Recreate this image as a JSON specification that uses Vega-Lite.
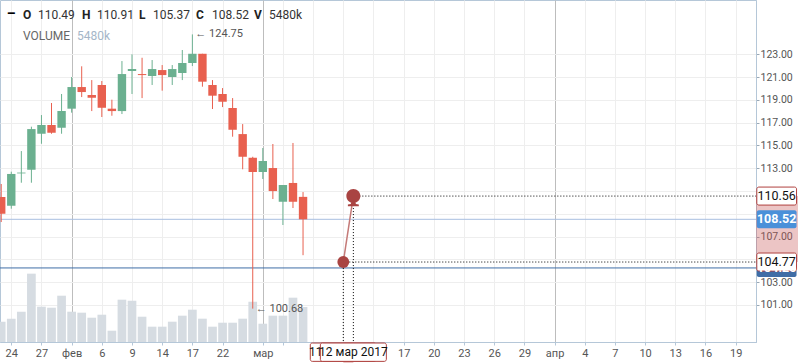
{
  "$schema": "https://vega.github.io/schema/vega-lite/v6.json",
  "width": 756,
  "height": 342,
  "autosize": {"type": "none"},
  "padding": {"left": 0, "top": 0, "right": 42, "bottom": 21},
  "background": "white",
  "config": {
    "view": {"stroke": "#b5c7d8"},
    "font": "Roboto",
    "text": {"font": "Roboto"},
    "scale": {"continuousPadding": 0},
    "axisX": {"labelOverlap": false, "labelFlush": false, "labelBound": false, "tickCount": 25}
  },
  "datasets": {
    "ohlc": [
      {"i": -1, "o": 110.48, "h": 111.62, "l": 108.28, "c": 109.01, "v": 3180},
      {"i": 0, "o": 109.71, "h": 112.70, "l": 109.45, "c": 112.50, "v": 3650},
      {"i": 1, "o": 112.55, "h": 114.51, "l": 111.73, "c": 112.62, "v": 4745},
      {"i": 2, "o": 112.87, "h": 116.65, "l": 111.73, "c": 116.44, "v": 10700},
      {"i": 3, "o": 116.03, "h": 117.67, "l": 115.15, "c": 116.80, "v": 5530},
      {"i": 4, "o": 116.80, "h": 118.73, "l": 116.03, "c": 116.12, "v": 5370},
      {"i": 5, "o": 116.56, "h": 119.52, "l": 116.03, "c": 118.02, "v": 7250},
      {"i": 6, "o": 118.23, "h": 121.01, "l": 117.88, "c": 120.13, "v": 4745},
      {"i": 7, "o": 120.13, "h": 121.95, "l": 119.25, "c": 119.69, "v": 4590},
      {"i": 8, "o": 119.43, "h": 120.74, "l": 118.02, "c": 119.19, "v": 3805},
      {"i": 9, "o": 120.31, "h": 120.66, "l": 117.50, "c": 118.31, "v": 4275},
      {"i": 10, "o": 118.23, "h": 119.02, "l": 117.61, "c": 118.02, "v": 1770},
      {"i": 11, "o": 118.02, "h": 122.41, "l": 117.76, "c": 121.27, "v": 6625},
      {"i": 12, "o": 121.53, "h": 123.00, "l": 119.52, "c": 121.71, "v": 6470},
      {"i": 13, "o": 121.27, "h": 122.70, "l": 119.16, "c": 121.18, "v": 3960},
      {"i": 14, "o": 121.10, "h": 122.50, "l": 120.31, "c": 121.71, "v": 2400},
      {"i": 15, "o": 121.62, "h": 122.06, "l": 119.81, "c": 121.18, "v": 2400},
      {"i": 16, "o": 121.01, "h": 122.06, "l": 120.31, "c": 121.71, "v": 3180},
      {"i": 17, "o": 121.36, "h": 123.38, "l": 120.74, "c": 122.24, "v": 4120},
      {"i": 18, "o": 122.24, "h": 124.75, "l": 121.97, "c": 123.05, "v": 5060},
      {"i": 19, "o": 123.05, "h": 123.05, "l": 120.16, "c": 120.60, "v": 3650},
      {"i": 20, "o": 120.31, "h": 120.74, "l": 118.20, "c": 119.37, "v": 2400},
      {"i": 21, "o": 119.52, "h": 120.04, "l": 118.37, "c": 118.84, "v": 3020},
      {"i": 22, "o": 118.29, "h": 119.16, "l": 115.77, "c": 116.38, "v": 3020},
      {"i": 23, "o": 116.00, "h": 116.88, "l": 112.91, "c": 114.01, "v": 3650},
      {"i": 24, "o": 113.93, "h": 114.01, "l": 100.68, "c": 112.67, "v": 6310},
      {"i": 25, "o": 112.67, "h": 114.78, "l": 112.06, "c": 113.64, "v": 2865},
      {"i": 26, "o": 113.02, "h": 115.13, "l": 110.30, "c": 111.00, "v": 4120},
      {"i": 27, "o": 110.06, "h": 111.53, "l": 108.02, "c": 111.53, "v": 4120},
      {"i": 28, "o": 111.71, "h": 115.22, "l": 109.51, "c": 110.06, "v": 6940},
      {"i": 29, "o": 110.49, "h": 110.91, "l": 105.37, "c": 108.52, "v": 5480}
    ],
    "ext": [
      {"i": 18, "p": 124.75, "label": "← 124.75"},
      {"i": 24, "p": 100.68, "label": "← 100.68"}
    ],
    "pts": [
      {"i": 33, "p": 104.77, "date": "11 мар 2017"},
      {"i": 34, "p": 110.56, "date": "12 мар 2017"}
    ],
    "band": [{"lo": 104.77, "hi": 110.56, "from": 33, "to": 34}],
    "tags": [
      {"p": 104.25, "label": "104.25", "kind": "level"},
      {"p": 110.56, "label": "110.56", "kind": "drawn"},
      {"p": 108.52, "label": "108.52", "kind": "close"},
      {"p": 104.77, "label": "104.77", "kind": "drawn"}
    ],
    "levels": [
      {"p": 108.52, "kind": "close"},
      {"p": 104.25, "kind": "level"}
    ]
  },
  "resolve": {"scale": {"y": "independent"}},
  "layer": [
    {
      "data": {"name": "ohlc"},
      "mark": {"type": "bar", "width": 8.7, "color": "#d6dce2", "clip": true},
      "encoding": {
        "x": {
          "field": "i", "type": "quantitative",
          "scale": {"domain": [-1.12, 74.02], "nice": false, "zero": false, "padding": 0},
          "axis": {
            "orient": "bottom", "title": null,
            "values": [0, 3, 6, 9, 12, 15, 18, 21, 25, 27, 30, 33, 36, 39, 42, 45, 48, 51, 54, 57, 60, 63, 66, 69, 72],
            "labelExpr": "['24','27','фев','6','9','14','17','22','мар','','','','','17','20','23','26','29','апр','4','7','10','13','16','19'][indexof([0,3,6,9,12,15,18,21,25,27,30,33,36,39,42,45,48,51,54,57,60,63,66,69,72], datum.value)]",
            "grid": true,
            "gridColor": {"condition": {"test": "datum.value == 6 || datum.value == 25 || datum.value == 54", "value": "#bdbdbd"}, "value": "#eeeeee"},
            "domainColor": "#b5c7d8", "tickColor": "#b5c7d8", "tickSize": 3,
            "labelPadding": 2, "labelColor": "#555555", "labelFontSize": 11, "labelFont": "Roboto",
            "labelOverlap": false, "labelFlush": false
          }
        },
        "y": {"field": "v", "type": "quantitative", "scale": {"domain": [0, 53550], "nice": false, "zero": false, "padding": 0}, "axis": null}
      }
    },
    {
      "data": {"name": "levels"},
      "mark": {"type": "rule", "strokeWidth": 1},
      "encoding": {
        "y": {
          "field": "p", "type": "quantitative",
          "scale": {"domain": [97.75, 127.77], "nice": false, "zero": false, "padding": 0},
          "axis": {
            "orient": "right", "title": null,
            "values": [101, 103, 105, 107, 109, 111, 113, 115, 117, 119, 121, 123],
            "labelExpr": "(datum.value == 105 || datum.value == 109 || datum.value == 111) ? '' : format(datum.value, '.2f')",
            "grid": true, "gridColor": "#eeeeee",
            "domainColor": "#b5c7d8", "tickColor": "#9aa8b5", "tickSize": 3,
            "labelPadding": 1, "labelColor": "#555555", "labelFontSize": 10.5, "labelFont": "Roboto"
          }
        },
        "color": {"field": "kind", "type": "nominal", "scale": {"domain": ["close", "level"], "range": ["#a8bee0", "#3f6da6"]}, "legend": null}
      }
    },
    {
      "data": {"name": "ohlc"},
      "mark": {"type": "rule", "strokeWidth": 1, "clip": true},
      "encoding": {
        "x": {"field": "i", "type": "quantitative"},
        "y": {"field": "l", "type": "quantitative", "scale": {"domain": [97.75, 127.77], "nice": false, "zero": false, "padding": 0}, "axis": null},
        "y2": {"field": "h"},
        "color": {"condition": {"test": "datum.c >= datum.o", "value": "#6bb090"}, "value": "#e8604f"}
      }
    },
    {
      "data": {"name": "ohlc"},
      "mark": {"type": "bar", "width": 8.4, "clip": true},
      "encoding": {
        "x": {"field": "i", "type": "quantitative"},
        "y": {"field": "o", "type": "quantitative", "scale": {"domain": [97.75, 127.77], "nice": false, "zero": false, "padding": 0}, "axis": null},
        "y2": {"field": "c"},
        "color": {"condition": {"test": "datum.c >= datum.o", "value": "#6bb090"}, "value": "#e8604f"}
      }
    },
    {
      "data": {"name": "ext"},
      "mark": {"type": "text", "align": "left", "baseline": "middle", "dx": 3, "fontSize": 11, "color": "#555555"},
      "encoding": {
        "x": {"field": "i", "type": "quantitative"},
        "y": {"field": "p", "type": "quantitative", "scale": {"domain": [97.75, 127.77], "nice": false, "zero": false, "padding": 0}, "axis": null},
        "text": {"field": "label"}
      }
    },
    {
      "data": {"name": "band"},
      "mark": {"type": "rect", "color": "#c85a58", "opacity": 0.35, "clip": false},
      "encoding": {
        "x": {"datum": 74.02, "type": "quantitative"},
        "x2": {"datum": 78.4},
        "y": {"field": "lo", "type": "quantitative", "scale": {"domain": [97.75, 127.77], "nice": false, "zero": false, "padding": 0}, "axis": null},
        "y2": {"field": "hi"}
      }
    },
    {
      "data": {"name": "band"},
      "mark": {"type": "rect", "color": "#c85a58", "opacity": 0.35, "clip": false},
      "encoding": {
        "x": {"field": "from", "type": "quantitative"},
        "x2": {"field": "to"},
        "y": {"datum": 97.7, "type": "quantitative", "scale": {"domain": [97.75, 127.77], "nice": false, "zero": false, "padding": 0}, "axis": null},
        "y2": {"datum": 95.9}
      }
    },
    {
      "data": {"name": "pts"},
      "mark": {"type": "rule", "strokeDash": [1, 2], "color": "#000000", "strokeWidth": 1, "clip": false},
      "encoding": {
        "x": {"field": "i", "type": "quantitative"},
        "x2": {"datum": 74.02},
        "y": {"field": "p", "type": "quantitative", "scale": {"domain": [97.75, 127.77], "nice": false, "zero": false, "padding": 0}, "axis": null}
      }
    },
    {
      "data": {"name": "pts"},
      "mark": {"type": "rule", "strokeDash": [1, 2], "color": "#000000", "strokeWidth": 1, "clip": false},
      "encoding": {
        "x": {"field": "i", "type": "quantitative"},
        "y": {"field": "p", "type": "quantitative", "scale": {"domain": [97.75, 127.77], "nice": false, "zero": false, "padding": 0}, "axis": null},
        "y2": {"datum": 97.75}
      }
    },
    {
      "data": {"name": "pts"},
      "mark": {"type": "line", "color": "#c47a78", "strokeWidth": 1.5},
      "encoding": {
        "x": {"field": "i", "type": "quantitative"},
        "y": {"field": "p", "type": "quantitative", "scale": {"domain": [97.75, 127.77], "nice": false, "zero": false, "padding": 0}, "axis": null}
      }
    },
    {
      "data": {"name": "pts"},
      "transform": [{"filter": "datum.i == 33"}],
      "mark": {"type": "point", "shape": "circle", "size": 140, "filled": true, "color": "#a94442", "opacity": 1},
      "encoding": {
        "x": {"field": "i", "type": "quantitative"},
        "y": {"field": "p", "type": "quantitative", "scale": {"domain": [97.75, 127.77], "nice": false, "zero": false, "padding": 0}, "axis": null}
      }
    },
    {
      "data": {"name": "pts"},
      "transform": [{"filter": "datum.i == 34"}],
      "mark": {"type": "point", "shape": "M0,-0.55A0.55,0.55 0 1,1 0,0.55A0.55,0.55 0 1,1 0,-0.55Z M-0.16,0.45L0.16,0.45L0.2,0.62L0.43,0.66L0.43,0.8L-0.43,0.8L-0.43,0.66L-0.2,0.62Z", "size": 646, "filled": true, "color": "#a94442", "opacity": 1},
      "encoding": {
        "x": {"field": "i", "type": "quantitative"},
        "y": {"field": "p", "type": "quantitative", "scale": {"domain": [97.75, 127.77], "nice": false, "zero": false, "padding": 0}, "axis": null}
      }
    },
    {
      "data": {"name": "tags"},
      "mark": {"type": "bar", "height": 18, "cornerRadius": 2, "strokeWidth": 1, "clip": false, "opacity": 1},
      "encoding": {
        "x": {"datum": 74.1, "type": "quantitative"},
        "x2": {"datum": 78.05},
        "y": {"field": "p", "type": "quantitative", "scale": {"domain": [97.75, 127.77], "nice": false, "zero": false, "padding": 0}, "axis": null},
        "fill": {"field": "kind", "type": "nominal", "scale": {"domain": ["close", "level", "drawn"], "range": ["#4a90d9", "#3f6da6", "#ffffff"]}, "legend": null},
        "stroke": {"condition": {"test": "datum.kind == 'drawn'", "value": "#b0413e"}, "value": "transparent"}
      }
    },
    {
      "data": {"name": "tags"},
      "transform": [{"filter": "datum.kind != 'drawn'"}],
      "mark": {"type": "text", "align": "center", "baseline": "middle", "fontSize": 12.5, "fontWeight": "bold", "color": "#ffffff", "clip": false},
      "encoding": {
        "x": {"datum": 76.07, "type": "quantitative"},
        "y": {"field": "p", "type": "quantitative", "scale": {"domain": [97.75, 127.77], "nice": false, "zero": false, "padding": 0}, "axis": null},
        "text": {"field": "label"}
      }
    },
    {
      "data": {"name": "tags"},
      "transform": [{"filter": "datum.kind == 'drawn'"}],
      "mark": {"type": "text", "align": "center", "baseline": "middle", "fontSize": 12.5, "color": "#111111", "clip": false},
      "encoding": {
        "x": {"datum": 76.07, "type": "quantitative"},
        "y": {"field": "p", "type": "quantitative", "scale": {"domain": [97.75, 127.77], "nice": false, "zero": false, "padding": 0}, "axis": null},
        "text": {"field": "label"}
      }
    },
    {
      "data": {"name": "pts"},
      "transform": [{"filter": "datum.i == 33"}],
      "mark": {"type": "bar", "width": 66, "cornerRadius": 2, "fill": "#ffffff", "stroke": "#b0413e", "strokeWidth": 1, "clip": false},
      "encoding": {
        "x": {"field": "i", "type": "quantitative"},
        "y": {"datum": 97.66, "type": "quantitative", "scale": {"domain": [97.75, 127.77], "nice": false, "zero": false, "padding": 0}, "axis": null},
        "y2": {"datum": 96.05}
      }
    },
    {
      "data": {"name": "pts"},
      "transform": [{"filter": "datum.i == 33"}],
      "mark": {"type": "text", "align": "center", "baseline": "middle", "fontSize": 12, "color": "#111111", "clip": false},
      "encoding": {
        "x": {"field": "i", "type": "quantitative"},
        "y": {"datum": 96.85, "type": "quantitative", "scale": {"domain": [97.75, 127.77], "nice": false, "zero": false, "padding": 0}, "axis": null},
        "text": {"field": "date"}
      }
    },
    {
      "data": {"name": "pts"},
      "transform": [{"filter": "datum.i == 34"}],
      "mark": {"type": "bar", "width": 66, "cornerRadius": 2, "fill": "#ffffff", "stroke": "#b0413e", "strokeWidth": 1, "clip": false},
      "encoding": {
        "x": {"field": "i", "type": "quantitative"},
        "y": {"datum": 97.66, "type": "quantitative", "scale": {"domain": [97.75, 127.77], "nice": false, "zero": false, "padding": 0}, "axis": null},
        "y2": {"datum": 96.05}
      }
    },
    {
      "data": {"name": "pts"},
      "transform": [{"filter": "datum.i == 34"}],
      "mark": {"type": "text", "align": "center", "baseline": "middle", "fontSize": 12, "color": "#111111", "clip": false},
      "encoding": {
        "x": {"field": "i", "type": "quantitative"},
        "y": {"datum": 96.85, "type": "quantitative", "scale": {"domain": [97.75, 127.77], "nice": false, "zero": false, "padding": 0}, "axis": null},
        "text": {"field": "date"}
      }
    },
    {
      "data": {"values": [{}]},
      "mark": {"type": "text", "text": "–", "align": "left", "fontSize": 14, "fontWeight": "bold", "color": "#000000"},
      "encoding": {
        "x": {"datum": -0.45, "type": "quantitative"},
        "y": {"datum": 126.5, "type": "quantitative", "scale": {"domain": [97.75, 127.77], "nice": false, "zero": false, "padding": 0}, "axis": null}
      }
    },
    {
      "data": {"values": [{"t": "O", "x": 1.16}, {"t": "H", "x": 7.03}, {"t": "L", "x": 12.69}, {"t": "C", "x": 18.36}, {"t": "V", "x": 24.13}]},
      "mark": {"type": "text", "align": "left", "fontSize": 12, "fontWeight": "bold", "color": "#222222"},
      "encoding": {
        "x": {"field": "x", "type": "quantitative"},
        "y": {"datum": 126.45, "type": "quantitative", "scale": {"domain": [97.75, 127.77], "nice": false, "zero": false, "padding": 0}, "axis": null},
        "text": {"field": "t"}
      }
    },
    {
      "data": {"values": [{"t": "110.49", "x": 2.65}, {"t": "110.91", "x": 8.52}, {"t": "105.37", "x": 14.09}, {"t": "108.52", "x": 19.95}, {"t": "5480k", "x": 25.62}]},
      "mark": {"type": "text", "align": "left", "fontSize": 12, "color": "#333333"},
      "encoding": {
        "x": {"field": "x", "type": "quantitative"},
        "y": {"datum": 126.45, "type": "quantitative", "scale": {"domain": [97.75, 127.77], "nice": false, "zero": false, "padding": 0}, "axis": null},
        "text": {"field": "t"}
      }
    },
    {
      "data": {"values": [{}]},
      "mark": {"type": "text", "text": "VOLUME", "align": "left", "fontSize": 12, "color": "#666666"},
      "encoding": {
        "x": {"datum": 1.16, "type": "quantitative"},
        "y": {"datum": 124.63, "type": "quantitative", "scale": {"domain": [97.75, 127.77], "nice": false, "zero": false, "padding": 0}, "axis": null}
      }
    },
    {
      "data": {"values": [{}]},
      "mark": {"type": "text", "text": "5480k", "align": "left", "fontSize": 12, "color": "#a5b6c8"},
      "encoding": {
        "x": {"datum": 6.53, "type": "quantitative"},
        "y": {"datum": 124.63, "type": "quantitative", "scale": {"domain": [97.75, 127.77], "nice": false, "zero": false, "padding": 0}, "axis": null}
      }
    }
  ]
}
